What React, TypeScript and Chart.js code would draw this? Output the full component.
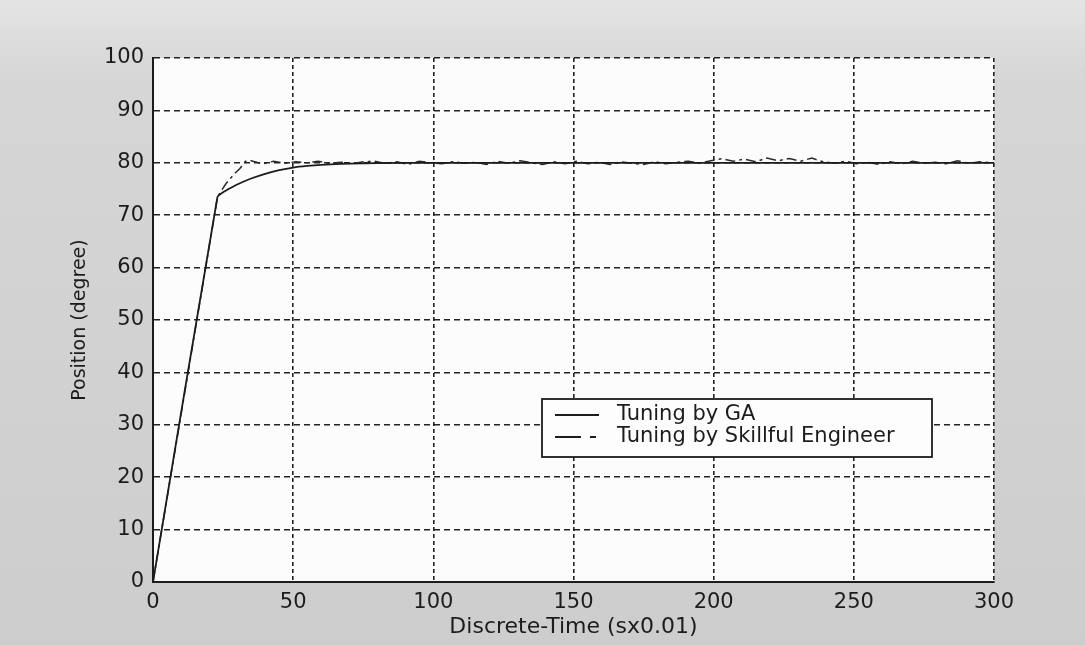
import React, { useEffect, useRef } from "react";
import { Chart, registerables } from "chart.js";

Chart.register(...registerables);

const xTickValues = [0, 50, 100, 150, 200, 250, 300];
const yTickValues = [0, 10, 20, 30, 40, 50, 60, 70, 80, 90, 100];

const gaLabel = "Tuning by GA";
const gaTime = [0, 23, 25, 28, 31, 35, 40, 45, 50, 55, 60, 70, 80, 100, 150, 200, 250, 300];
const gaPosition = [0, 73.5, 74.4, 75.3, 76.1, 77.0, 77.9, 78.6, 79.1, 79.4, 79.6, 79.85, 79.95, 80, 80, 80, 80, 80];

const engLabel = "Tuning by Skillful Engineer";
const engTime = [
  0, 23, 26, 29, 31, 33,
  35, 39, 43, 47, 51, 55, 59, 63, 67, 71, 75, 79, 83, 87, 91, 95, 99,
  103, 107, 111, 115, 119, 123, 127, 131, 135, 139, 143, 147, 151, 155, 159,
  163, 167, 171, 175, 179, 183, 187, 191, 195, 199, 203, 207, 211, 215, 219,
  223, 227, 231, 235, 239, 243, 247, 251, 255, 259, 263, 267, 271, 275, 279,
  283, 287, 291, 295, 299,
];
const engPosition = [
  0, 73.5, 76.0, 77.9, 78.9, 80.3,
  80.4, 79.8, 80.3, 79.9, 80.2, 80.0, 80.3, 79.9, 80.1, 79.8, 80.2, 80.3, 79.9, 80.2, 79.7, 80.3, 80.0,
  79.8, 80.2, 79.9, 80.1, 79.7, 80.3, 79.9, 80.4, 80.0, 79.7, 80.2, 79.8, 80.3, 79.8, 80.1,
  79.7, 80.2, 79.9, 79.7, 80.2, 79.8, 80.1, 80.3, 79.9, 80.4, 80.8, 80.3, 80.7, 80.2, 80.9,
  80.4, 80.8, 80.3, 80.9, 80.2, 79.9, 80.3, 79.8, 80.1, 79.7, 80.2, 79.8, 80.3, 79.9, 80.1,
  79.8, 80.4, 79.9, 80.2, 80.0,
];

const FONT = "'DejaVu Sans', 'Liberation Sans', Arial, sans-serif";
const INK = "#1c1c1c";
const ENG_DASH = [10, 4, 3, 4];

const backgroundPlugin = {
  id: "scanBackground",
  beforeDraw(chart: any) {
    const { ctx, width, height, chartArea } = chart;
    ctx.save();
    const g = ctx.createLinearGradient(0, 0, 0, height);
    g.addColorStop(0, "#e4e4e4");
    g.addColorStop(0.12, "#d6d6d6");
    g.addColorStop(1, "#cdcdcd");
    ctx.fillStyle = g;
    ctx.fillRect(0, 0, width, height);
    ctx.fillStyle = "#fcfcfc";
    ctx.fillRect(chartArea.left, chartArea.top, chartArea.right - chartArea.left, chartArea.bottom - chartArea.top);
    ctx.restore();
  },
};

const legendPlugin = {
  id: "boxLegend",
  afterDatasetsDraw(chart: any) {
    const { ctx } = chart;
    const x0 = 542, y0 = 399, w = 390, h = 58;
    ctx.save();
    ctx.fillStyle = "#fdfdfd";
    ctx.fillRect(x0, y0, w, h);
    ctx.strokeStyle = INK;
    ctx.lineWidth = 1.8;
    ctx.strokeRect(x0, y0, w, h);
    const ds = chart.data.datasets;
    const rows = [y0 + 16, y0 + 38];
    ds.forEach((d: any, i: number) => {
      ctx.beginPath();
      ctx.setLineDash(i === 0 ? [] : [26, 9, 6, 40]);
      ctx.lineWidth = 1.8;
      ctx.strokeStyle = INK;
      ctx.moveTo(x0 + 13, rows[i]);
      ctx.lineTo(x0 + 57, rows[i]);
      ctx.stroke();
      ctx.setLineDash([]);
      ctx.fillStyle = INK;
      ctx.font = `21px ${FONT}`;
      ctx.textBaseline = "middle";
      ctx.textAlign = "left";
      ctx.fillText(d.label, x0 + 75, rows[i]);
    });
    ctx.restore();
  },
};

export default function App() {
  const ref = useRef<HTMLCanvasElement | null>(null);

  useEffect(() => {
    document.body.style.margin = "0";
    const canvas = ref.current;
    if (!canvas) return;
    const chart = new Chart(canvas, {
      type: "line",
      data: {
        datasets: [
          {
            label: gaLabel,
            data: gaTime.map((t, i) => ({ x: t, y: gaPosition[i] })),
            borderColor: INK,
            borderWidth: 1.8,
            pointRadius: 0,
            tension: 0.15,
            fill: false,
          },
          {
            label: engLabel,
            data: engTime.map((t, i) => ({ x: t, y: engPosition[i] })),
            borderColor: "#2a2a2a",
            borderWidth: 1.5,
            borderDash: ENG_DASH,
            pointRadius: 0,
            tension: 0,
            fill: false,
          },
        ],
      },
      options: {
        responsive: false,
        animation: false,
        devicePixelRatio: 1,
        layout: { padding: { left: 0, top: 58, right: 91, bottom: 0 } },
        plugins: {
          legend: { display: false },
          tooltip: { enabled: false },
        },
        scales: {
          x: {
            type: "linear",
            min: 0,
            max: 300,
            afterBuildTicks: (s: any) => {
              s.ticks = xTickValues.map((v) => ({ value: v }));
            },
            afterFit: (s: any) => {
              s.height = 63;
            },
            ticks: {
              color: INK,
              font: { family: FONT, size: 21 },
              padding: 8,
              maxRotation: 0,
              autoSkip: false,
            },
            grid: { color: "#222222", lineWidth: 1.6, drawTicks: false },
            border: { color: INK, width: 2, dash: [4, 3] },
            title: {
              display: true,
              text: "Discrete-Time (sx0.01)",
              color: INK,
              font: { family: FONT, size: 22 },
              padding: { top: 0, bottom: 5 },
            },
          },
          y: {
            type: "linear",
            min: 0,
            max: 100,
            afterBuildTicks: (s: any) => {
              s.ticks = yTickValues.map((v) => ({ value: v }));
            },
            afterFit: (s: any) => {
              s.width = 153;
            },
            ticks: {
              color: INK,
              font: { family: FONT, size: 21 },
              padding: 9,
              autoSkip: false,
            },
            grid: { color: "#222222", lineWidth: 1.6, drawTicks: false },
            border: { color: INK, width: 2, dash: [6, 4] },
            title: {
              display: true,
              text: "Position (degree)",
              color: INK,
              font: { family: FONT, size: 19 },
              padding: { top: 69, bottom: 0 },
            },
          },
        },
      },
      plugins: [backgroundPlugin, legendPlugin],
    });
    return () => chart.destroy();
  }, []);

  return (
    <canvas
      ref={ref}
      width={1085}
      height={645}
      style={{ display: "block", width: 1085, height: 645 }}
    />
  );
}
